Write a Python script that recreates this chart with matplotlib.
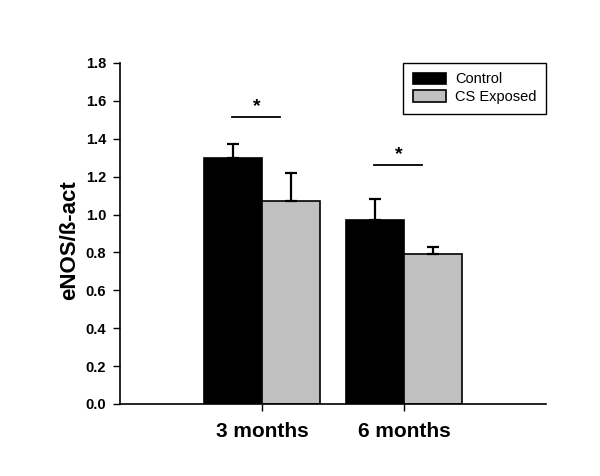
import numpy as np
import matplotlib.pyplot as plt

plt.rcParams['font.family'] = ['Liberation Sans', 'DejaVu Sans']

# data
groups = ['3 months', '6 months']
control = [1.30, 0.97]
control_err = [0.07, 0.11]
exposed = [1.07, 0.79]
exposed_err = [0.15, 0.04]
sig_y = [1.515, 1.26]

fig = plt.figure(figsize=(6, 4.76), dpi=100)
ax = fig.add_axes([0.2, 0.1513, 0.71, 0.7164])

x = np.arange(1, len(groups) + 1)
w = 0.41
ax.bar(x - w, control, w, align='edge', color='black', edgecolor='black', linewidth=1.2, label='Control')
ax.bar(x, exposed, w, align='edge', color='#c0c0c0', edgecolor='black', linewidth=1.2, label='CS Exposed')
ax.errorbar(x - w / 2, control, yerr=[np.zeros(2), control_err], fmt='none', ecolor='black',
            elinewidth=1.6, capsize=4, capthick=1.6)
ax.errorbar(x + w / 2, exposed, yerr=[np.zeros(2), exposed_err], fmt='none', ecolor='black',
            elinewidth=1.6, capsize=4, capthick=1.6)

# significance marks
for xi, yi in zip(x, sig_y):
    ax.plot([xi - 0.21, xi + 0.13], [yi, yi], color='black', lw=1.3)
    ax.text(xi - 0.04, yi + 0.01, '*', ha='center', va='bottom', fontsize=14, fontweight='bold')

ax.set_xlim(0, 3)
ax.set_ylim(0, 1.8)
ax.set_yticks(np.arange(0, 1.81, 0.2))
ax.set_yticklabels([f'{v:.1f}' for v in np.arange(0, 1.81, 0.2)], fontsize=10.5, fontweight='bold')
ax.set_xticks(x)
ax.set_xticklabels(groups, fontsize=15, fontweight='bold')
ax.tick_params(axis='x', length=5, width=1, pad=8)
ax.tick_params(axis='y', length=5, width=1, pad=5)
ax.spines['top'].set_visible(False)
ax.spines['right'].set_visible(False)
ax.spines['left'].set_linewidth(1.2)
ax.spines['bottom'].set_linewidth(1.2)
ax.set_ylabel('eNOS/ß-act', fontsize=16, fontweight='bold')
ax.yaxis.set_label_coords(-0.094, 0.48)

ax.legend(loc='upper right', bbox_to_anchor=(1.0, 1.0), fontsize=10.5, frameon=True, fancybox=False,
          edgecolor='black', framealpha=1, handlelength=2.3, handleheight=0.8, borderpad=0.65,
          labelspacing=0.25, handletextpad=0.6, borderaxespad=0)

plt.savefig('out.png', dpi=100)
